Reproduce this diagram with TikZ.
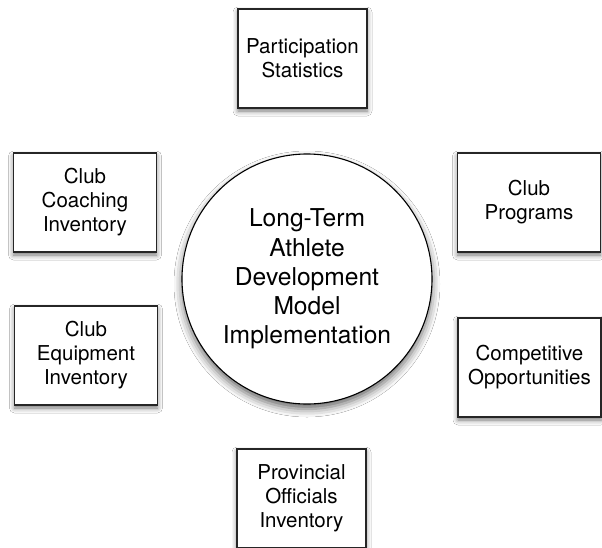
\documentclass[tikz,border=0pt]{standalone}
\usepackage{fontspec}
\setmainfont{TeX Gyre Heros}
\usetikzlibrary{shadows.blur}
\tikzset{
  item/.style={draw=black!85,fill=white,line width=0.75pt,align=center,
    minimum width=71.5pt,minimum height=49.5pt,inner sep=2pt,
    font=\fontsize{10.25}{12}\selectfont,
    blur shadow={shadow xshift=0pt,shadow yshift=-1.5pt,
      shadow blur radius=2.5pt,shadow opacity=55}},
  narrow/.style={minimum width=64.5pt},
  hub/.style={circle,draw=black,fill=white,line width=0.55pt,align=center,
    minimum size=125pt,inner sep=0pt,
    font=\fontsize{12.3}{14.6}\selectfont,
    blur shadow={shadow xshift=0pt,shadow yshift=-2.5pt,
      shadow blur radius=4pt,shadow opacity=60}}
}
\begin{document}
\begin{tikzpicture}[x=0.5pt,y=-0.5pt]
  % page area, the bottom box runs off the edge
  \fill[white] (0,0) rectangle (602,548);
  \clip (0,0) rectangle (602,548);

  % centre of the diagram
  \node[hub] (ltad) at (307,279) {Long-Term\\Athlete\\Development\\Model\\Implementation};

  % the six parts around it
  \node[item,narrow] (part) at (302.5,58.5) {Participation\\Statistics};
  \node[item] (coach) at (85,202.5) {Club\\Coaching\\Inventory};
  \node[item] (equip) at (86,355.5) {Club\\Equipment\\Inventory};
  \node[item] (prog) at (529,202.5) {Club\\Programs};
  \node[item] (comp) at (529.5,367.5) {Competitive\\Opportunities};
  \node[item,narrow] (prov) at (301.5,498.5) {Provincial\\Officials\\Inventory};
\end{tikzpicture}
\end{document}
